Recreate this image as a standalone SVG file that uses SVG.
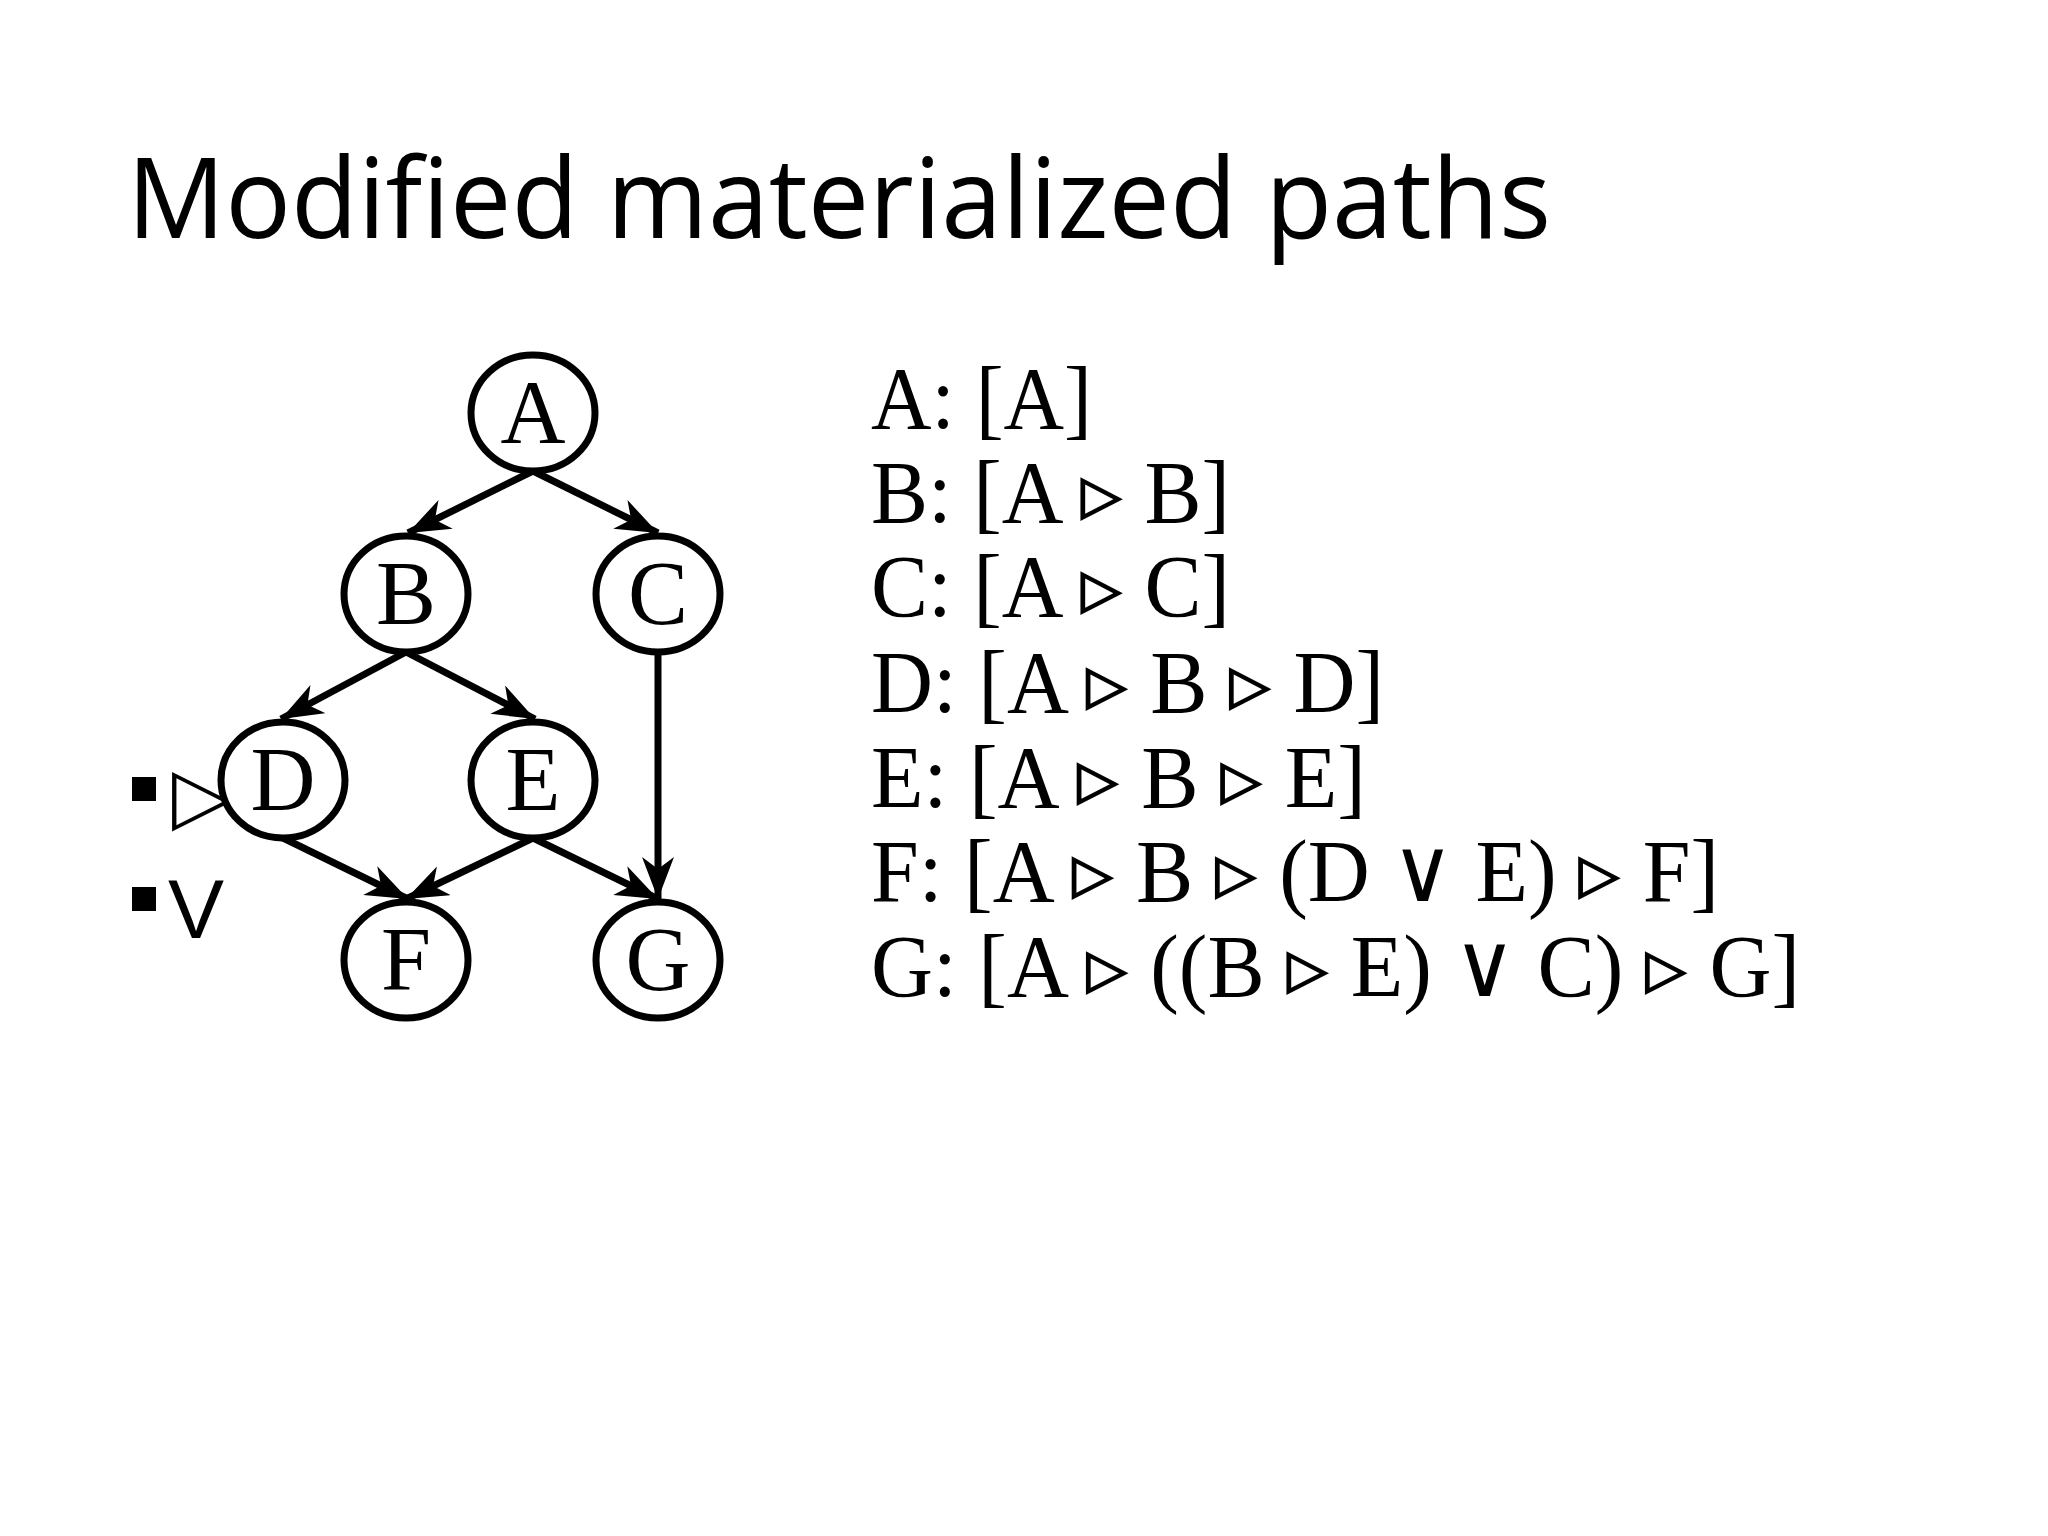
<svg xmlns="http://www.w3.org/2000/svg" width="2048" height="1536" viewBox="0 0 2048 1536">
<style>
.n ellipse{fill:#fff;stroke:#000;stroke-width:7}
.n text{font-family:"Liberation Serif",serif;font-size:90px;text-anchor:middle}
.e line{stroke:#000;stroke-width:7}
.p{font-family:"Liberation Serif","DejaVu Serif",serif;font-size:88px}
</style>
<defs>
<marker id="ar" markerUnits="userSpaceOnUse" markerWidth="46" markerHeight="36" refX="42" refY="16" orient="auto" viewBox="0 0 46 36">
<path d="M0,0 L42,16 L0,32 L12,16 z" fill="#000"/>
</marker>
</defs>
<rect width="2048" height="1536" fill="#fff"/>
<text x="127" y="238" font-family="'Open Sans','Liberation Sans',sans-serif" font-size="112" textLength="1424" lengthAdjust="spacingAndGlyphs">Modified materialized paths</text>
<g id="bullets">
<rect x="132" y="777" width="24" height="24" fill="#000"/>
<rect x="132" y="887" width="24" height="24" fill="#000"/>
<text x="172" y="822" font-family="'DejaVu Sans',sans-serif" font-size="78">▷</text>
<text x="168" y="938" font-family="'Liberation Sans',sans-serif" font-size="84">V</text>
</g>
<g id="connectors" class="e">
<line x1="533" y1="471" x2="408" y2="533" marker-end="url(#ar)"/>
<line x1="533" y1="471" x2="658" y2="533" marker-end="url(#ar)"/>
<line x1="406" y1="652" x2="281" y2="719" marker-end="url(#ar)"/>
<line x1="406" y1="652" x2="535" y2="719" marker-end="url(#ar)"/>
<line x1="658" y1="652" x2="658" y2="899" marker-end="url(#ar)"/>
<line x1="283" y1="838" x2="408" y2="899" marker-end="url(#ar)"/>
<line x1="533" y1="838" x2="406" y2="899" marker-end="url(#ar)"/>
<line x1="533" y1="838" x2="658" y2="899" marker-end="url(#ar)"/>
</g>
<g id="A" class="n"><ellipse cx="533" cy="413" rx="62" ry="58"/><text x="533" y="443">A</text></g>
<g id="B" class="n"><ellipse cx="406" cy="594" rx="62" ry="58"/><text x="406" y="624">B</text></g>
<g id="C" class="n"><ellipse cx="658" cy="594" rx="62" ry="58"/><text x="658" y="624">C</text></g>
<g id="D" class="n"><ellipse cx="283" cy="780" rx="62" ry="58"/><text x="283" y="810">D</text></g>
<g id="E" class="n"><ellipse cx="533" cy="780" rx="62" ry="58"/><text x="533" y="810">E</text></g>
<g id="F" class="n"><ellipse cx="406" cy="960" rx="62" ry="58"/><text x="406" y="990">F</text></g>
<g id="G" class="n"><ellipse cx="658" cy="960" rx="62" ry="58"/><text x="658" y="990">G</text></g>
<g id="paths" class="p">
<text x="871" y="428" textLength="221" lengthAdjust="spacingAndGlyphs">A: [A]</text>
<text x="871" y="522" textLength="359" lengthAdjust="spacingAndGlyphs">B: [A ▹ B]</text>
<text x="871" y="616" textLength="359" lengthAdjust="spacingAndGlyphs">C: [A ▹ C]</text>
<text x="871" y="712" textLength="513" lengthAdjust="spacingAndGlyphs">D: [A ▹ B ▹ D]</text>
<text x="871" y="807" textLength="495" lengthAdjust="spacingAndGlyphs">E: [A ▹ B ▹ E]</text>
<text x="871" y="901" textLength="848" lengthAdjust="spacingAndGlyphs">F: [A ▹ B ▹ (D ∨ E) ▹ F]</text>
<text x="871" y="996" textLength="929" lengthAdjust="spacingAndGlyphs">G: [A ▹ ((B ▹ E) ∨ C) ▹ G]</text>
</g>
</svg>
